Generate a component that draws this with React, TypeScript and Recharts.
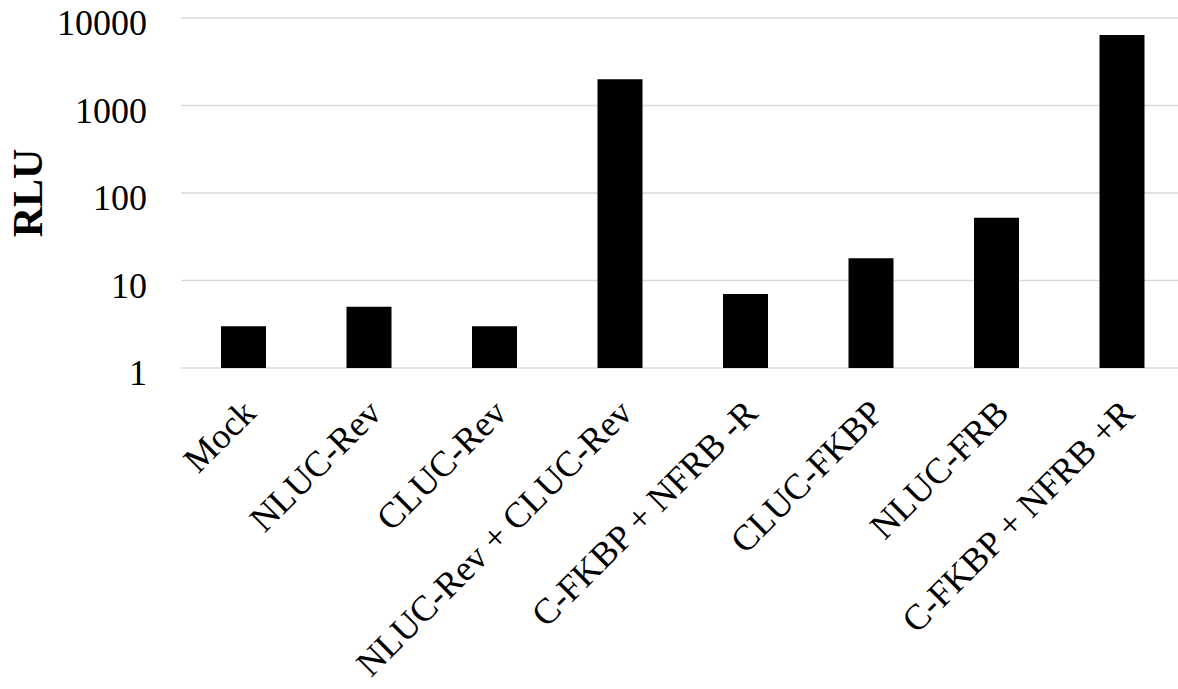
import React from "react";
import { BarChart, Bar, XAxis, YAxis, CartesianGrid } from "recharts";

const categories = [
  "Mock",
  "NLUC-Rev",
  "CLUC-Rev",
  "NLUC-Rev + CLUC-Rev",
  "C-FKBP + NFRB -R",
  "CLUC-FKBP",
  "NLUC-FRB",
  "C-FKBP + NFRB +R",
];
const rlu = [3, 5, 3, 2000, 7, 18, 52, 6400];
const yTicks = [1, 10, 100, 1000, 10000];

const data = categories.map((name, i) => ({ name, rlu: rlu[i] }));

const FONT = "'Liberation Serif', 'Times New Roman', serif";

function XTick(props: any) {
  const { x, y, payload } = props;
  const ax = x + 14;
  const ay = y + 47;
  return (
    <text
      x={ax}
      y={ay}
      textAnchor="end"
      transform={`rotate(-45, ${ax}, ${ay})`}
      fontFamily={FONT}
      fontSize={36}
      fill="#000"
    >
      {payload.value}
    </text>
  );
}

function YTick(props: any) {
  const { x, y, payload } = props;
  return (
    <text x={x} y={y} dy={17} textAnchor="end" fontFamily={FONT} fontSize={36} fill="#000">
      {payload.value}
    </text>
  );
}

export default function App() {
  return (
    <div
      style={{
        position: "absolute",
        left: 0,
        top: 0,
        width: 1178,
        height: 689,
        overflow: "hidden",
        background: "#fff",
      }}
    >
      <BarChart
        width={1190}
        height={689}
        data={data}
        margin={{ top: 18, right: 5, bottom: 0, left: 0 }}
      >
        <CartesianGrid vertical={false} stroke="#d9d9d9" strokeWidth={1.5} />
        <XAxis
          dataKey="name"
          interval={0}
          height={321}
          axisLine={false}
          tickLine={false}
          tickSize={0}
          tickMargin={0}
          tick={<XTick />}
        />
        <YAxis
          scale="log"
          domain={[1, 10000]}
          ticks={yTicks}
          allowDataOverflow
          width={181}
          axisLine={false}
          tickLine={false}
          tickSize={0}
          tickMargin={34}
          tick={<YTick />}
          label={{
            content: ({ viewBox }: any) => {
              const cy = viewBox.y + viewBox.height / 2;
              return (
                <text
                  x={28}
                  y={cy}
                  transform={`rotate(-90, 28, ${cy})`}
                  textAnchor="middle"
                  dominantBaseline="central"
                  fontFamily={FONT}
                  fontSize={42}
                  fontWeight="bold"
                  fill="#000"
                >
                  RLU
                </text>
              );
            },
          }}
        />
        <Bar dataKey="rlu" fill="#000" barSize={45} isAnimationActive={false} />
      </BarChart>
    </div>
  );
}
